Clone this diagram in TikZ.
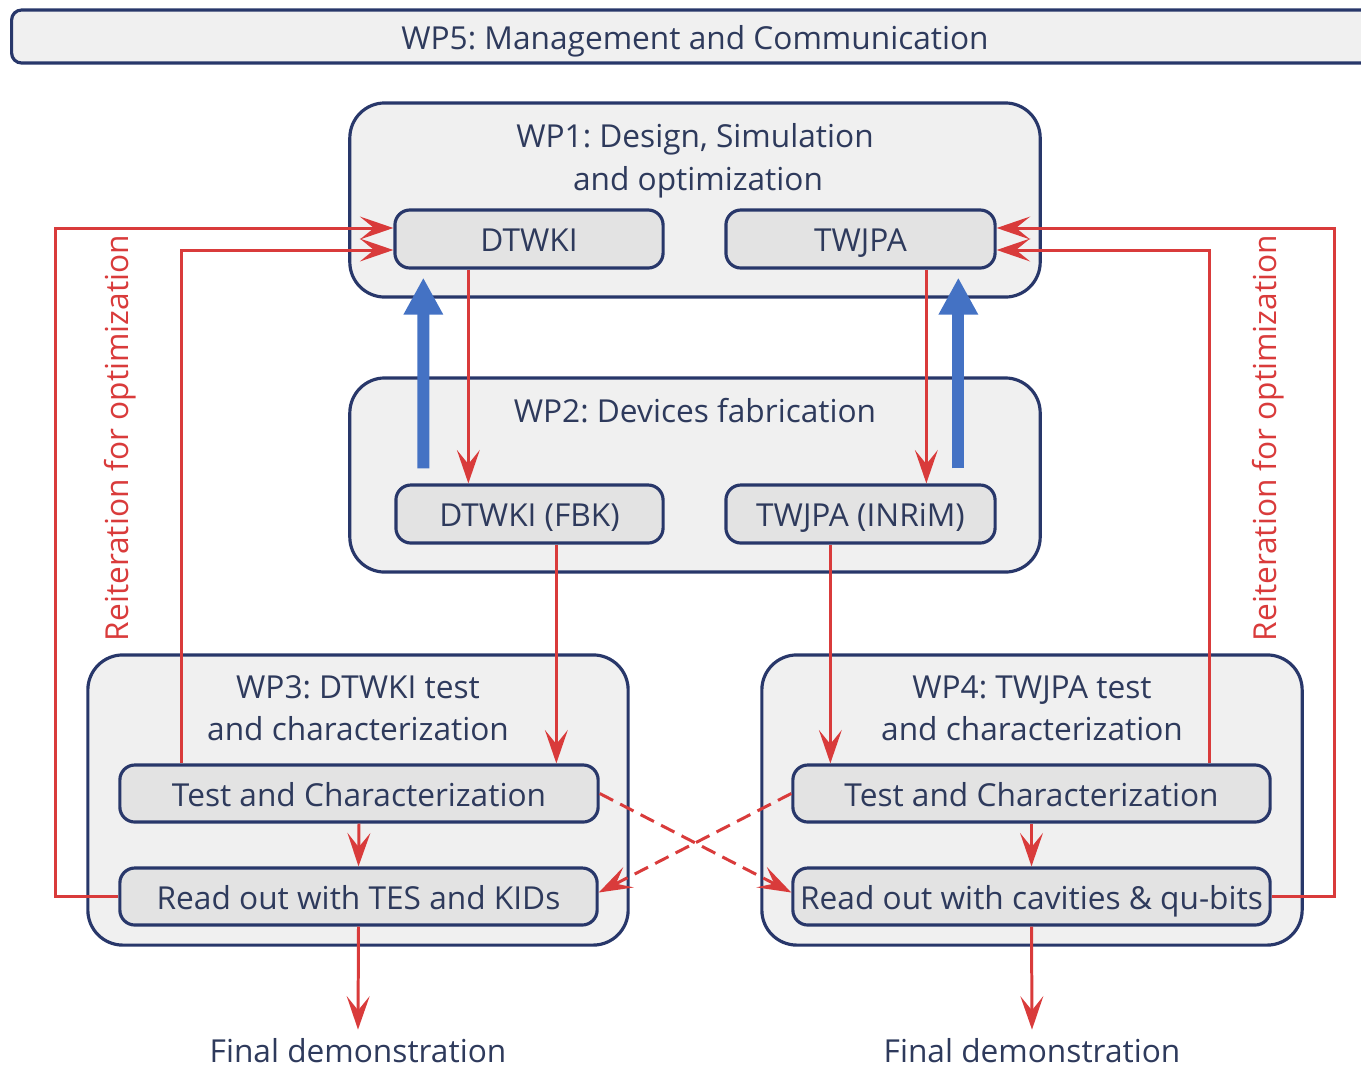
\documentclass[tikz,border=0pt]{standalone}
\usepackage{fontspec}
\setmainfont{Open Sans}
\usetikzlibrary{arrows.meta,calc}
\frenchspacing
\definecolor{navy}{HTML}{28376A}
\definecolor{txt}{HTML}{2E3A5C}
\definecolor{rd}{HTML}{D93B3B}
\definecolor{bl}{HTML}{4472C4}
\definecolor{bigfill}{HTML}{F0F0F0}
\definecolor{smallfill}{HTML}{E3E3E3}
\tikzset{
  bigbox/.style={draw=navy,line width=0.9pt,fill=bigfill,rounded corners=0.35cm,inner sep=0},
  smallbox/.style={draw=navy,line width=0.9pt,fill=smallfill,rounded corners=0.15cm,minimum height=0.58cm,inner sep=0,text=txt,font=\fontsize{9}{11}\selectfont,text height=0.72em,text depth=0em},
  ttl/.style={text=txt,font=\fontsize{9}{11}\selectfont,inner sep=0,text height=0.72em,text depth=0em},
  rarr/.style={draw=rd,line width=0.85pt,-{Stealth[length=9.5pt,width=6.5pt,inset=4pt]}},
  rline/.style={draw=rd,line width=0.85pt},
  rdash/.style={rarr,dash pattern=on 0.15cm off 0.08cm},
  barr/.style={draw=bl,line width=0.12cm,-{Triangle[length=0.37cm,width=0.37cm]}},
  rlabel/.style={text=rd,rotate=90,font=\fontsize{9}{11}\selectfont,inner sep=0}
}
\begin{document}
\begin{tikzpicture}[x=0.01cm,y=-0.01cm]
\useasboundingbox (0,0) rectangle (1361,1066);
\begin{scope}
\clip (0,0) rectangle (1361,1066);
\node[draw=navy,line width=0.9pt,fill=bigfill,rounded corners=0.1cm,minimum width=13.66cm,minimum height=0.53cm,inner sep=0,text=txt,font=\fontsize{9}{11}\selectfont,text height=0.72em,text depth=0em] (wp5) at (695,36.5) {WP5: Management and Communication};
\end{scope}
% big boxes
\node[bigbox,minimum width=6.9cm,minimum height=1.94cm] (wp1) at (695,200) {};
\node[bigbox,minimum width=6.9cm,minimum height=1.94cm] (wp2) at (695,475) {};
\node[bigbox,minimum width=5.4cm,minimum height=2.9cm] (wp3) at (358,800) {};
\node[bigbox,minimum width=5.4cm,minimum height=2.9cm] (wp4) at (1032,800) {};
% titles
\node[ttl] (t1a) at (695,135) {WP1: Design, Simulation};
\node[ttl] (t1b) at (698,178) {and optimization};
\node[ttl] (t2) at (695,410) {WP2: Devices fabrication};
\node[ttl] (t3a) at (358,686) {WP3: DTWKI test};
\node[ttl] (t3b) at (358,728) {and characterization};
\node[ttl] (t4a) at (1032,686) {WP4: TWJPA test};
\node[ttl] (t4b) at (1032,728) {and characterization};
% small boxes
\node[smallbox,minimum width=2.68cm] (dt) at (529,239) {DTWKI};
\node[smallbox,minimum width=2.69cm] (tw) at (860.5,239) {TWJPA};
\node[smallbox,minimum width=2.67cm] (dtf) at (529.5,514) {DTWKI (FBK)};
\node[smallbox,minimum width=2.69cm] (twf) at (860.5,514) {TWJPA (INRiM)};
\node[smallbox,minimum width=4.78cm,minimum height=0.57cm] (tl) at (359,793.5) {Test and Characterization};
\node[smallbox,minimum width=4.77cm,minimum height=0.57cm] (rl) at (358.5,896.5) {Read out with TES and KIDs};
\node[smallbox,minimum width=4.77cm,minimum height=0.57cm] (tr) at (1031.5,793.5) {Test and Characterization};
\node[smallbox,minimum width=4.77cm,minimum height=0.57cm] (rr) at (1031.5,896.5) {Read out with cavities \& qu-bits};
% final labels
\node[ttl,inner sep=2pt] (fd1) at (358,1050) {Final demonstration};
\node[ttl,inner sep=2pt] (fd2) at (1032,1050) {Final demonstration};
% rotated labels
\node[rlabel] (lab1) at (120,438) {Reiteration for optimization};
\node[rlabel] (lab2) at (1268,438) {Reiteration for optimization};
% red vertical arrows
\draw[rarr] ($(dt.south west)+(75,0)$) coordinate (a1) -- (a1 |- dtf.north);
\draw[rarr] ($(tw.south west)+(202,0)$) coordinate (a2) -- (a2 |- twf.north);
\draw[rarr] ($(dtf.south west)+(162,0)$) coordinate (a3) -- (a3 |- tl.north);
\draw[rarr] ($(twf.south west)+(106,0)$) coordinate (a4) -- (a4 |- tr.north);
\draw[rarr] (tl.south) -- (rl.north);
\draw[rarr] (tr.south) -- (rr.north);
\draw[rarr] (rl.south) -- (fd1.north);
\draw[rarr] (rr.south) -- (fd2.north);
% loops
\draw[rarr] (rl.west) -- ++(-63,0) |- ($(dt.west)+(0,-11)$);
\draw[rarr] ($(tl.north west)+(63,0)$) |- ($(dt.west)+(0,11)$);
\draw[rarr] (rr.east) -- ++(63,0) |- ($(tw.east)+(0,-11)$);
\draw[rarr] ($(tr.north east)+(-62,0)$) |- ($(tw.east)+(0,11)$);
% dashed crossing
\draw[rdash] (tl.east) -- ($(rr.west)+(0,-4)$);
\draw[rdash] (tr.west) -- ($(rl.east)+(0,-4)$);
% blue arrows
\draw[barr] ($(dtf.north west)+(29,-15)$) -- ($(dt.south west)+(30,8)$);
\draw[barr] ($(twf.north west)+(234,-15)$) -- ($(tw.south west)+(234,8)$);
\end{tikzpicture}
\end{document}
